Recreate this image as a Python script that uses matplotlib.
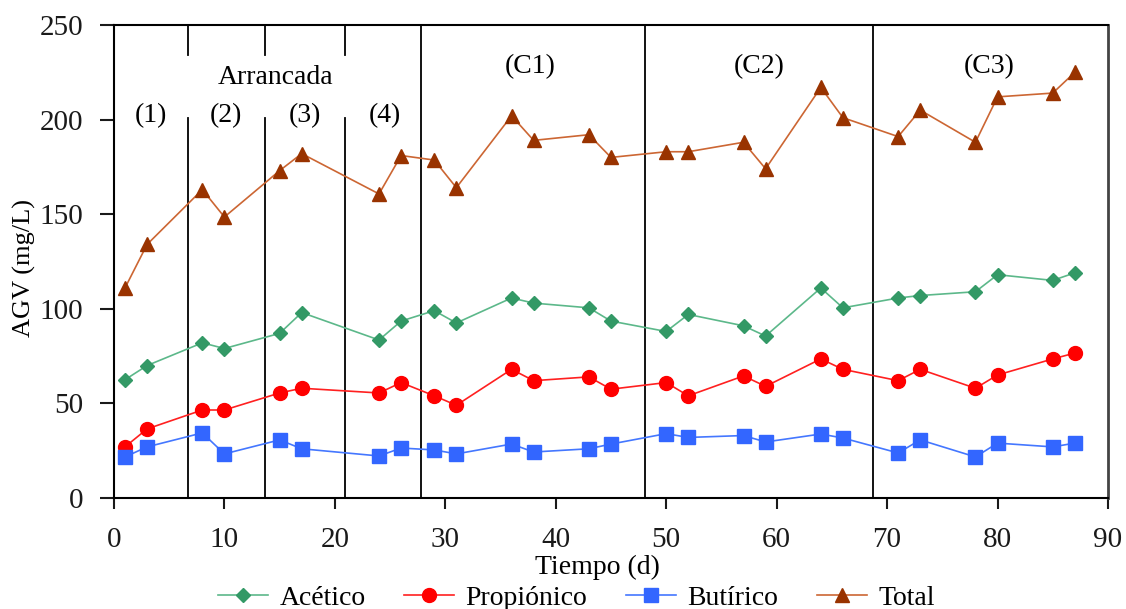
import matplotlib
matplotlib.use('Agg')
import matplotlib.pyplot as plt

# datos (dias de muestreo)
dias = [1, 3, 8, 10, 15, 17, 24, 26, 29, 31, 36, 38, 43, 45, 50, 52, 57, 59, 64, 66, 71, 73, 78, 80, 85, 87]
acetico = [62.5, 70, 82, 79, 87, 98, 83.5, 93.5, 99, 92.5, 105.7, 103, 100.5, 93.5, 88, 97, 91, 85.6, 111, 100.5, 105.7, 107, 109, 118, 115, 119]
propionico = [27, 36.5, 46.5, 46.5, 55.5, 58, 55.5, 61, 54, 49, 68, 62, 64, 57.5, 61, 54, 64.5, 59, 73.5, 68, 62, 68, 58, 65, 73.5, 76.6]
butirico = [21.7, 27, 34.4, 23.3, 30.7, 26, 22.2, 26.4, 25.4, 23.3, 28.5, 24.3, 26, 28.5, 34, 32, 33, 29.6, 33.8, 31.7, 23.8, 30.7, 21.7, 29, 27, 29]
total = [111, 134, 163, 148.5, 173, 182, 160.7, 181, 178.6, 164, 202, 189, 192, 180, 183, 183, 188, 174, 217, 201, 191, 205, 188, 212, 214, 225]

# divisiones de etapas
cortes_arranque = [6.7, 13.7, 20.9]
cortes_fases = [27.8, 48.1, 68.75]
etiquetas_arranque = ['(1)', '(2)', '(3)', '(4)']
x_arranque = [3.35, 10.1, 17.3, 24.5]
etiquetas_fases = ['(C1)', '(C2)', '(C3)']
x_fases = [37.7, 58.4, 79.2]

plt.rcParams['font.family'] = 'Liberation Serif'
plt.rcParams['font.size'] = 20

fig = plt.figure(figsize=(11.26, 6.09), dpi=100)
ax = fig.add_axes([0.1012, 0.1823, 0.8828, 0.7767])

ax.plot(dias, acetico, color='#5cb88a', lw=1.2, marker='D', ms=7.5,
        mfc='#339966', mec='#339966', label='Acético')
ax.plot(dias, propionico, color='#ff2020', lw=1.2, marker='o', ms=10,
        mfc='#ff0000', mec='#ff0000', label='Propiónico')
ax.plot(dias, butirico, color='#4477ff', lw=1.2, marker='s', ms=10,
        mfc='#3366ff', mec='#3366ff', label='Butírico')
ax.plot(dias, total, color='#cc6633', lw=1.2, marker='^', ms=10,
        mfc='#993300', mec='#993300', label='Total')

for c in cortes_arranque:
    ax.plot([c, c], [0, 201], color='black', lw=1.3, zorder=1)
    ax.plot([c, c], [234, 250], color='black', lw=1.3, zorder=1)
for c in cortes_fases:
    ax.axvline(c, color='black', lw=1.3, zorder=1)

ax.text(14.6, 222, 'Arrancada', ha='center', va='center')
for x, t in zip(x_arranque, etiquetas_arranque):
    ax.text(x, 202, t, ha='center', va='center')
for x, t in zip(x_fases, etiquetas_fases):
    ax.text(x, 228, t, ha='center', va='center')

ax.set_xlim(0, 90)
ax.set_ylim(0, 250)
ax.set_xticks(range(0, 91, 10))
ax.set_yticks(range(0, 251, 50))
ax.tick_params(axis='x', direction='out', length=8, width=1.5, pad=13,
               colors='#1a1a1a', labelsize=21)
ax.tick_params(axis='y', direction='out', length=10, width=1.5, pad=12,
               colors='#1a1a1a', labelsize=21)
for s in ax.spines.values():
    s.set_linewidth(1.5)
ax.spines['right'].set_linewidth(2)
ax.spines['right'].set_color('#444444')

fig.text(0.531, 0.068, 'Tiempo (d)', ha='center', va='center')
fig.text(0.022, 0.56, 'AGV (mg/L)', rotation=90, ha='center', va='center', fontsize=19)

fig.legend(loc='center', bbox_to_anchor=(0.512, 0.018), ncol=4, frameon=False,
           handlelength=1.8, handletextpad=0.4, columnspacing=1.4)

fig.savefig('out.png', dpi=100)
